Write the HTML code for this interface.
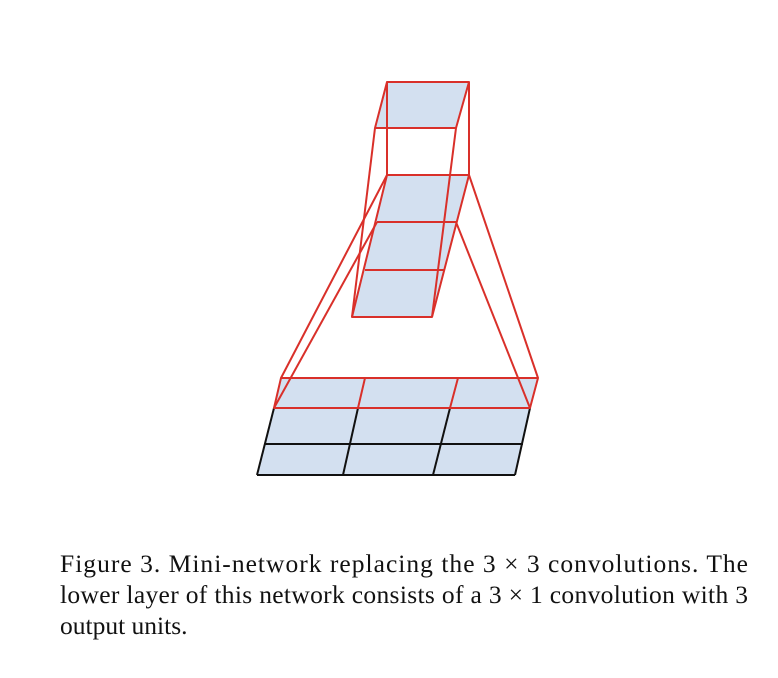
<!DOCTYPE html>
<html><head><meta charset="utf-8"><style>
html,body{margin:0;padding:0;background:#fff;width:778px;height:678px;overflow:hidden}
</style></head><body>
<svg width="778" height="678" viewBox="0 0 778 678" xmlns="http://www.w3.org/2000/svg">
<g stroke-width="2" stroke-linejoin="round" fill="none">
<polygon points="281,378 538,378 515,475 257,475" fill="#d3e0f0" stroke="none"/>
<g stroke="#111">
<line x1="274" y1="408" x2="257" y2="475"/>
<line x1="530" y1="408" x2="515" y2="475"/>
<line x1="264" y1="444" x2="523" y2="444"/>
<line x1="257" y1="475" x2="515" y2="475"/>
<line x1="358" y1="408" x2="343" y2="475"/>
<line x1="450" y1="408" x2="433" y2="475"/>
</g>
<polygon points="387,82 469,82 456,128 375,128" fill="#d3e0f0" stroke="none"/>
<polygon points="387,175 469,175 432,317 352,317" fill="#d3e0f0" stroke="none"/>
<g stroke="#d9302a">
<polygon points="387,82 469,82 456,128 375,128"/>
<line x1="387" y1="82" x2="387" y2="175"/>
<line x1="469" y1="82" x2="469" y2="175"/>
<line x1="375" y1="128" x2="352" y2="317"/>
<line x1="456" y1="128" x2="432" y2="317"/>
<polygon points="387,175 469,175 432,317 352,317"/>
<line x1="377" y1="222" x2="456" y2="222"/>
<line x1="365" y1="270" x2="444" y2="270"/>
<line x1="387" y1="175" x2="281" y2="378"/>
<line x1="377" y1="222" x2="274" y2="408"/>
<line x1="469" y1="175" x2="538" y2="378"/>
<line x1="456" y1="222" x2="530" y2="408"/>
<polygon points="281,378 538,378 530,408 274,408"/>
<line x1="365" y1="378" x2="358" y2="408"/>
<line x1="458" y1="378" x2="450" y2="408"/>
</g>
</g>
<g font-family="'Liberation Serif', serif" font-size="25.5" fill="#111">
<text x="60" y="572" textLength="688" lengthAdjust="spacing">Figure 3. Mini-network replacing the 3 × 3 convolutions.  The</text>
<text x="60" y="603" textLength="688" lengthAdjust="spacing">lower layer of this network consists of a 3 × 1 convolution with 3</text>
<text x="60" y="634">output units.</text>
</g>
</svg>
</body></html>
